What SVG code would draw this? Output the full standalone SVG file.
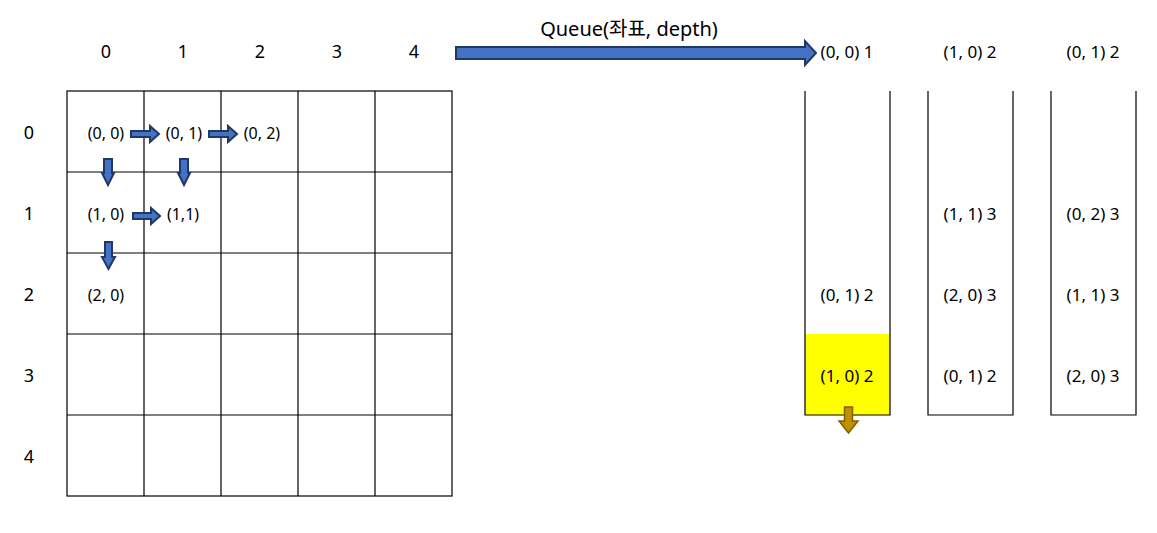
<svg xmlns="http://www.w3.org/2000/svg" width="1157" height="533" viewBox="0 0 1157 533">
<style>
text{font-family:"Noto Sans","Noto Sans CJK KR",sans-serif;fill:#000;text-anchor:middle}
.h{font-size:18px}
.c{font-size:16px}
.q{font-size:17px}
.g{fill:none;stroke:#000;stroke-width:1.2}
.ba{fill:#4472c4;stroke:#203864;stroke-width:2}
.oa{fill:#bf9000;stroke:#7f6000;stroke-width:1.5}
</style>
<rect width="1157" height="533" fill="#fff"/>
<g id="headers">
<text class="h" x="106" y="58">0</text>
<text class="h" x="183" y="58">1</text>
<text class="h" x="260" y="58">2</text>
<text class="h" x="337" y="58">3</text>
<text class="h" x="414" y="58">4</text>
<text class="h" x="29" y="139">0</text>
<text class="h" x="29" y="220">1</text>
<text class="h" x="29" y="301">2</text>
<text class="h" x="29" y="382">3</text>
<text class="h" x="29" y="463">4</text>
</g>
<g id="grid">
<rect class="g" x="67" y="91" width="385" height="405"/>
<path class="g" d="M144 91V496M221 91V496M298 91V496M375 91V496M67 172H452M67 253H452M67 334H452M67 415H452"/>
</g>
<g id="cells">
<text class="c" x="106" y="139">(0, 0)</text>
<text class="c" x="184" y="139">(0, 1)</text>
<text class="c" x="262" y="139">(0, 2)</text>
<text class="c" x="106" y="220">(1, 0)</text>
<text class="c" x="183" y="220">(1,1)</text>
<text class="c" x="106" y="301">(2, 0)</text>
</g>
<g id="queue-title">
<text x="629" y="36" style="font-size:20px">Queue(좌표, depth)</text>
</g>
<g id="queue1">
<rect x="805" y="334" width="85" height="81" fill="#ffff00"/>
<path class="g" d="M805 91V415H890V91"/>
<text class="q" x="847" y="58">(0, 0) 1</text>
<text class="q" x="847" y="301">(0, 1) 2</text>
<text class="q" x="847" y="382">(1, 0) 2</text>
</g>
<g id="queue2">
<path class="g" d="M928 91V415H1013V91"/>
<text class="q" x="970" y="58">(1, 0) 2</text>
<text class="q" x="970" y="220">(1, 1) 3</text>
<text class="q" x="970" y="301">(2, 0) 3</text>
<text class="q" x="970" y="382">(0, 1) 2</text>
</g>
<g id="queue3">
<path class="g" d="M1051 91V415H1136V91"/>
<text class="q" x="1093" y="58">(0, 1) 2</text>
<text class="q" x="1093" y="220">(0, 2) 3</text>
<text class="q" x="1093" y="301">(1, 1) 3</text>
<text class="q" x="1093" y="382">(2, 0) 3</text>
</g>
<g id="connectors">
<path class="ba" d="M131 131H150V126L159 134L150 142V137H131Z"/>
<path class="ba" d="M209 131H228V126L237 134L228 142V137H209Z"/>
<path class="ba" d="M133 213H151V208L160 216L151 224V219H133Z"/>
<path class="ba" d="M104 159H112V173H114L108 185L102 173H104Z"/>
<path class="ba" d="M180 159H188V173H190L184 185L178 173H180Z"/>
<path class="ba" d="M105 242H112V257H115L108.5 269L102 257H105Z"/>
<path class="ba" d="M456 47H805V41L816 53L805 65V59H456Z"/>
<path class="oa" d="M844.5 407H852.5V421H858L848.5 433L839 421H844.5Z"/>
</g>
</svg>
